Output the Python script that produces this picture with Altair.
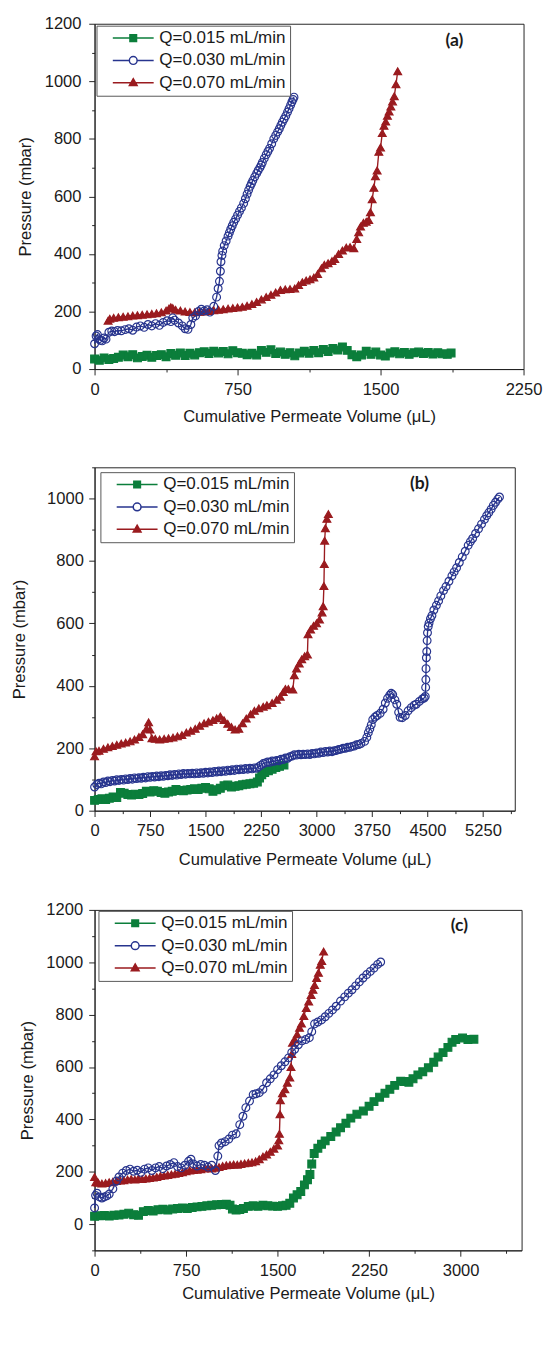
import altair as alt
import pandas as pd

SERIES = ["Q=0.015 mL/min", "Q=0.030 mL/min", "Q=0.070 mL/min"]
COLORS = ["#0B7E3B", "#27348E", "#9A1B1F"]
PANEL_LABELS = ["(a)", "(b)", "(c)"]
X_TITLE = "Cumulative Permeate Volume (μL)"
Y_TITLE = "Pressure (mbar)"

A_X_TICKS = [0, 375, 750, 1125, 1500, 1875, 2250]
A_Y_TICKS = [0, 100, 200, 300, 400, 500, 600, 700, 800, 900, 1000, 1100, 1200]
B_X_TICKS = [0, 375, 750, 1125, 1500, 1875, 2250, 2625, 3000, 3375, 3750, 4125, 4500, 4875, 5250, 5625]
B_Y_TICKS = [0, 100, 200, 300, 400, 500, 600, 700, 800, 900, 1000, 1100]
C_X_TICKS = [0, 375, 750, 1125, 1500, 1875, 2250, 2625, 3000, 3375]
C_Y_TICKS = [-100, 0, 100, 200, 300, 400, 500, 600, 700, 800, 900, 1000, 1100, 1200]

# ---------------- panel (a) ----------------
A_GREEN = [(0,35),(25,31),(50,39),(75,33),(100,37),(125,41),(150,49),(175,43),(200,50),(225,39),(250,44),(275,48),(300,41),(325,47),(350,50),(375,43),(400,54),(425,48),(450,56),(475,47),(500,55),(525,49),(550,57),(575,60),(600,54),(625,62),(650,56),(675,61),(700,53),(725,64),(750,57),(775,55),(800,50),(825,55),(850,49),(875,65),(900,58),(925,67),(950,54),(975,59),(1000,51),(1025,57),(1050,46),(1075,56),(1100,62),(1125,55),(1150,65),(1175,57),(1200,68),(1225,61),(1250,72),(1275,66),(1300,77),(1325,65),(1350,50),(1375,43),(1400,49),(1425,62),(1450,51),(1475,59),(1500,49),(1525,45),(1550,56),(1575,60),(1600,53),(1625,58),(1650,51),(1675,57),(1700,59),(1725,54),(1750,58),(1775,52),(1800,57),(1825,53),(1850,51),(1870,56)]
A_BLUE = [(0,88),(8,115),(15,120),(22,105),(30,100),(40,98),(50,108),(60,104),(75,128),(90,132),(105,130),(120,134),(140,133),(160,137),(180,140),(200,135),(220,146),(240,150),(260,145),(280,155),(300,150),(320,158),(340,152),(360,162),(380,168),(400,165),(410,178),(420,170),(440,160),(460,150),(475,140),(490,138),(505,155),(515,178),(530,185),(545,200),(560,208),(575,202),(590,206),(605,198),(625,218),(640,250),(648,280),(655,305),(660,340),(663,373),(668,395),(672,410),(680,429),(690,445),(700,462),(707,474),(714,486),(722,498),(730,510),(740,522),(750,535),(760,548),(770,560),(782,576),(791,592),(800,608),(808,622),(816,635),(823,645),(830,655),(840,668),(850,680),(858,690),(867,700),(874,709),(880,718),(890,732),(900,745),(909,756),(918,767),(929,783),(940,800),(950,812),(960,824),(969,835),(977,847),(985,858),(994,869),(1003,880),(1012,893),(1020,905),(1028,917),(1035,928),(1041,937),(1046,945)]
A_RED = [(71,168),(80,175),(100,178),(125,180),(150,182),(175,183),(200,186),(225,187),(250,189),(275,190),(300,192),(325,194),(350,197),(375,203),(390,210),(400,215),(410,212),(425,206),(450,203),(475,200),(500,198),(525,197),(550,199),(575,200),(600,202),(625,204),(650,206),(675,208),(700,210),(725,212),(750,214),(775,216),(800,220),(825,226),(850,233),(875,242),(900,250),(925,258),(950,266),(975,275),(1000,277),(1025,278),(1050,280),(1070,292),(1090,302),(1110,308),(1130,312),(1150,318),(1170,330),(1190,350),(1205,362),(1225,368),(1245,375),(1260,382),(1280,400),(1300,412),(1320,422),(1340,424),(1360,420),(1375,452),(1385,475),(1395,495),(1410,508),(1425,512),(1438,518),(1447,545),(1456,590),(1465,630),(1473,670),(1482,690),(1491,755),(1500,770),(1509,820),(1518,845),(1527,860),(1536,880),(1545,895),(1554,912),(1563,930),(1572,948),(1581,990),(1590,1035)]

# ---------------- panel (b) ----------------
B_GREEN = [(0,33),(50,36),(100,38),(150,36),(200,40),(250,44),(300,42),(350,58),(400,56),(450,52),(500,50),(550,53),(600,52),(650,55),(700,62),(750,60),(800,64),(850,62),(900,58),(950,56),(1000,60),(1050,62),(1100,68),(1150,65),(1200,64),(1250,66),(1300,68),(1350,70),(1400,68),(1450,72),(1500,74),(1550,70),(1600,62),(1650,67),(1700,72),(1750,80),(1800,82),(1850,76),(1900,78),(1950,80),(2000,83),(2050,85),(2100,86),(2150,88),(2200,92),(2230,105),(2260,115),(2300,122),(2350,128),(2400,133),(2450,138),(2500,142),(2560,146)]
B_BLUE = [(0,76),(30,84),(60,88),(90,86),(120,92),(150,90),(180,95),(210,93),(240,97),(270,95),(300,99),(330,97),(360,100),(390,98),(420,102),(450,100),(480,103),(510,101),(540,105),(570,103),(600,106),(630,104),(660,107),(690,105),(720,109),(750,107),(780,110),(810,108),(840,111),(870,109),(900,112),(930,110),(960,113),(990,112),(1020,115),(1050,113),(1080,116),(1110,114),(1140,118),(1170,116),(1200,119),(1230,117),(1260,119),(1290,118),(1320,120),(1350,118),(1380,121),(1410,119),(1440,122),(1470,120),(1500,123),(1530,121),(1560,124),(1590,122),(1620,126),(1650,124),(1680,127),(1710,125),(1740,128),(1770,126),(1800,130),(1830,128),(1860,131),(1890,129),(1920,133),(1950,131),(1980,134),(2010,132),(2040,135),(2070,133),(2100,136),(2130,134),(2160,137),(2190,136),(2220,141),(2250,146),(2280,151),(2310,153),(2340,156),(2370,155),(2400,159),(2430,158),(2460,161),(2490,160),(2520,165),(2550,164),(2580,169),(2610,168),(2640,173),(2670,175),(2700,179),(2730,178),(2760,181),(2790,179),(2820,181),(2850,180),(2880,182),(2910,180),(2940,183),(2970,182),(3000,185),(3030,184),(3060,188),(3090,186),(3120,190),(3150,188),(3180,191),(3210,189),(3240,192),(3270,193),(3300,196),(3330,197),(3360,200),(3390,200),(3420,203),(3450,203),(3480,206),(3510,207),(3540,211),(3570,212),(3600,215),(3650,222),(3680,235),(3700,250),(3720,262),(3740,275),(3760,292),(3790,300),(3820,305),(3860,312),(3900,325),(3930,345),(3960,360),(3990,370),(4010,376),(4030,372),(4060,355),(4085,341),(4110,315),(4130,299),(4160,298),(4200,305),(4238,320),(4280,330),(4320,338),(4347,341),(4390,350),(4430,358),(4455,361),(4470,366),(4475,395),(4478,420),(4480,455),(4485,490),(4490,510),(4495,545),(4500,570),(4510,590),(4521,601),(4540,615),(4560,625),(4586,643),(4620,658),(4650,672),(4680,688),(4717,705),(4750,718),(4790,735),(4830,752),(4860,765),(4893,778),(4930,795),(4970,813),(5010,831),(5050,850),(5080,862),(5110,872),(5150,888),(5190,903),(5230,918),(5270,933),(5300,945),(5329,955),(5360,966),(5390,978),(5420,988),(5450,998),(5473,1005)]
B_RED = [(0,174),(20,190),(60,192),(120,198),(180,203),(240,207),(300,211),(360,215),(420,218),(480,222),(540,228),(600,236),(650,245),(700,262),(730,283),(750,260),(775,232),(820,230),(880,228),(940,230),(1000,232),(1060,234),(1120,238),(1180,242),(1240,250),(1300,256),(1360,262),(1420,272),(1480,280),(1540,285),(1600,290),(1650,296),(1700,302),(1750,290),(1800,278),(1850,268),(1900,260),(1950,262),(2000,280),(2050,295),(2110,309),(2160,320),(2220,328),(2280,333),(2330,338),(2400,345),(2460,355),(2510,365),(2550,380),(2580,390),(2620,390),(2680,388),(2700,434),(2730,455),(2767,471),(2800,485),(2840,495),(2877,500),(2885,565),(2920,580),(2960,592),(3000,600),(3040,612),(3075,635),(3090,655),(3100,720),(3105,790),(3110,865),(3120,905),(3140,935),(3160,950)]

# ---------------- panel (c) ----------------
C_GREEN = [(0,30),(40,32),(80,33),(120,31),(160,34),(200,35),(240,38),(280,42),(320,36),(360,34),(400,48),(440,52),(480,50),(520,55),(560,57),(600,54),(640,58),(680,60),(720,62),(760,60),(800,64),(840,66),(880,68),(920,70),(960,72),(1000,74),(1040,75),(1080,76),(1110,72),(1130,58),(1160,54),(1190,56),(1220,60),(1260,68),(1300,70),(1340,68),(1380,72),(1420,70),(1460,69),(1500,68),(1540,70),(1570,72),(1600,80),(1630,100),(1660,112),(1690,125),(1720,150),(1745,170),(1765,190),(1780,230),(1800,270),(1830,290),(1860,305),(1890,318),(1936,335),(1980,352),(2016,368),(2060,385),(2100,405),(2150,420),(2203,432),(2250,450),(2290,468),(2336,485),(2380,500),(2420,515),(2460,530),(2509,546),(2540,545),(2576,542),(2610,555),(2650,570),(2690,582),(2736,597),(2780,618),(2816,638),(2856,655),(2896,675),(2930,695),(2960,705),(3016,711),(3060,705),(3109,706)]
C_BLUE = [(0,62),(8,110),(20,118),(40,104),(60,100),(80,104),(100,108),(120,115),(150,135),(180,165),(200,180),(230,195),(260,205),(290,210),(320,202),(350,206),(380,198),(410,210),(440,215),(470,205),(500,215),(530,220),(560,212),(590,222),(620,228),(650,235),(680,220),(710,215),(740,225),(770,240),(790,248),(810,230),(840,222),(870,228),(900,225),(930,218),(960,225),(990,205),(1010,260),(1020,300),(1040,310),(1070,315),(1100,325),(1130,340),(1160,345),(1190,380),(1216,412),(1240,445),(1270,470),(1300,495),(1323,498),(1350,502),(1380,515),(1410,540),(1440,555),(1470,570),(1500,590),(1530,605),(1560,620),(1590,635),(1616,656),(1640,668),(1670,685),(1700,700),(1730,705),(1760,712),(1780,735),(1803,765),(1830,772),(1860,780),(1890,792),(1920,805),(1950,818),(1980,832),(2016,852),(2050,868),(2080,882),(2110,895),(2140,910),(2170,925),(2200,940),(2230,953),(2260,965),(2290,978),(2320,992),(2345,1001)]
C_RED = [(0,180),(10,160),(30,158),(60,155),(90,157),(120,160),(150,162),(180,165),(210,167),(240,168),(270,170),(300,172),(330,170),(360,175),(390,172),(420,174),(450,176),(480,178),(510,180),(540,184),(570,186),(600,188),(630,190),(660,192),(690,195),(720,198),(750,202),(780,205),(810,207),(840,208),(870,210),(900,212),(930,214),(960,212),(990,215),(1020,218),(1050,222),(1080,225),(1110,226),(1140,228),(1170,227),(1200,230),(1230,232),(1260,234),(1290,236),(1320,240),(1350,248),(1380,258),(1410,266),(1440,276),(1470,288),(1500,300),(1510,320),(1515,345),(1520,420),(1523,473),(1540,500),(1560,515),(1580,540),(1600,560),(1610,600),(1616,650),(1622,693),(1640,705),(1660,725),(1680,750),(1696,766),(1715,795),(1735,825),(1755,850),(1775,875),(1790,895),(1803,913),(1820,940),(1835,960),(1850,990),(1862,1005),(1877,1041)]

FONT = "Liberation Sans"
TXT = "#1a1a1a"

# legend symbols (unit = 5 px): a 42 px line with the marker in its middle
P_SQ = "M0.8,0H9.2M4.32,-0.68H5.68V0.68H4.32Z"
P_CI = "M0.8,0H4.2M5.8,0H9.2M5.8,0A0.8,0.8,0,1,1,4.2,0A0.8,0.8,0,1,1,5.8,0Z"
P_TR = "M0.8,0H9.2M5,-0.85L5.8,0.55H4.2Z"


def build_df(green, blue, red):
    rows = []
    for name, pts in [(SERIES[0], green), (SERIES[2], red), (SERIES[1], blue)]:
        for i, (x, y) in enumerate(pts):
            rows.append({"series": name, "x": x, "y": y, "idx": i})
    return pd.DataFrame(rows)


def panel(green, blue, red, label, xdom, ydom, xticks, yticks, w, h, g):
    df = build_df(green, blue, red)
    xax = alt.Axis(
        values=xticks, format="d", labelOverlap=False, labelFlush=False,
        labelExpr="datum.value % 750 === 0 ? datum.label : ''",
        tickSize={"condition": {"test": "datum.value % 750 === 0", "value": 6}, "value": 3},
        labelPadding=g["xlp"], titlePadding=g["xtp"], title=X_TITLE, grid=False,
    )
    yax = alt.Axis(
        values=yticks, format="d", labelOverlap=False, labelFlush=False,
        labelExpr="datum.value % 200 === 0 ? datum.label : ''",
        tickSize={"condition": {"test": "datum.value % 200 === 0", "value": 6}, "value": 3},
        labelPadding=g["ylp"], titlePadding=g["ytp"], title=Y_TITLE, grid=False,
    )
    X = alt.X("x:Q", scale=alt.Scale(domain=xdom, nice=False, zero=False), axis=xax)
    Y = alt.Y("y:Q", scale=alt.Scale(domain=ydom, nice=False, zero=False), axis=yax)
    legend = alt.Legend(
        title=None, orient="none", legendX=g["lx"], legendY=g["ly"],
        symbolSize=100, symbolStrokeWidth=1.5,
        labelFont=FONT, labelFontSize=17.5, labelColor=TXT, labelOffset=43,
        padding=4, rowPadding=4, strokeColor="#555555", fillColor="white",
    )
    base = alt.Chart(df)
    lines = base.mark_line(strokeWidth=1.4).encode(
        x=X, y=Y,
        color=alt.Color("series:N", scale=alt.Scale(domain=SERIES, range=COLORS), legend=None),
        order="idx:Q",
    )
    points = base.mark_point(filled=True, opacity=1, strokeWidth=1.2, size=64).encode(
        x=X, y=Y,
        shape=alt.Shape("series:N", scale=alt.Scale(domain=SERIES, range=["square", "circle", "triangle-up"]), legend=None),
        fill=alt.Fill("series:N", scale=alt.Scale(domain=SERIES, range=[COLORS[0], "transparent", COLORS[2]]), legend=None),
        stroke=alt.Stroke("series:N", scale=alt.Scale(domain=SERIES, range=COLORS), legend=None),
    )
    # invisible layer (size 0) that only drives the legend symbols: line + marker
    legend_layer = base.mark_point(filled=True, opacity=1, strokeWidth=1.5, size=0).encode(
        x=X, y=Y,
        shape=alt.Shape("series:N", scale=alt.Scale(domain=SERIES, range=[P_SQ, P_CI, P_TR]), legend=legend),
        fill=alt.Fill("series:N", scale=alt.Scale(domain=SERIES, range=[COLORS[0], "#ffffff", COLORS[2]]), legend=legend),
        stroke=alt.Stroke("series:N", scale=alt.Scale(domain=SERIES, range=COLORS), legend=legend),
    )
    text = alt.Chart(pd.DataFrame({"label": [label]})).mark_text(
        font="Lato", fontWeight="bold", fontSize=18, color=TXT, align="center", baseline="middle"
    ).encode(text="label:N", x=alt.value(g["tx"]), y=alt.value(g["ty"]))
    return alt.layer(lines, points, legend_layer, text).resolve_scale(
        shape="independent", fill="independent", stroke="independent"
    ).properties(width=w, height=h)


pa = panel(A_GREEN, A_BLUE, A_RED, PANEL_LABELS[0], [0, 2250], [0, 1200], A_X_TICKS, A_Y_TICKS, 441, 355,
           {"xlp": 7, "xtp": 12, "ylp": 8, "ytp": 10.2, "lx": 2, "ly": 2, "tx": 370, "ty": 18})
pb = panel(B_GREEN, B_BLUE, B_RED, PANEL_LABELS[1], [0, 5680], [0, 1100], B_X_TICKS, B_Y_TICKS, 432, 353,
           {"xlp": 7, "xtp": 13, "ylp": 5.5, "ytp": 18.7, "lx": 6, "ly": 5, "tx": 334, "ty": 17})
pc = panel(C_GREEN, C_BLUE, C_RED, PANEL_LABELS[2], [0, 3500], [-100, 1200], C_X_TICKS, C_Y_TICKS, 439, 350,
           {"xlp": 7, "xtp": 8, "ylp": 6.3, "ytp": 9.9, "lx": 4, "ly": 1, "tx": 375, "ty": 17})

RES = dict(color="independent", fill="independent", stroke="independent", shape="independent")
LEG = dict(fill="independent", stroke="independent", shape="independent")
chart = alt.concat(pa, pb, pc, columns=1, spacing=33, align="none").resolve_scale(**RES).resolve_legend(**LEG)

chart = chart.properties(
    padding={"left": 2, "top": -12, "right": 0, "bottom": -15},
    background="white",
).configure_view(
    stroke="#222222", strokeWidth=1
).configure_axis(
    domainColor="#222222", domainWidth=1, tickColor="#222222", tickWidth=1,
    labelFont=FONT, labelFontSize=17, labelColor=TXT,
    titleFont=FONT, titleFontSize=17, titleFontWeight="normal", titleColor=TXT,
)

chart.save("out.html", embed_options={"renderer": "svg", "actions": False})
